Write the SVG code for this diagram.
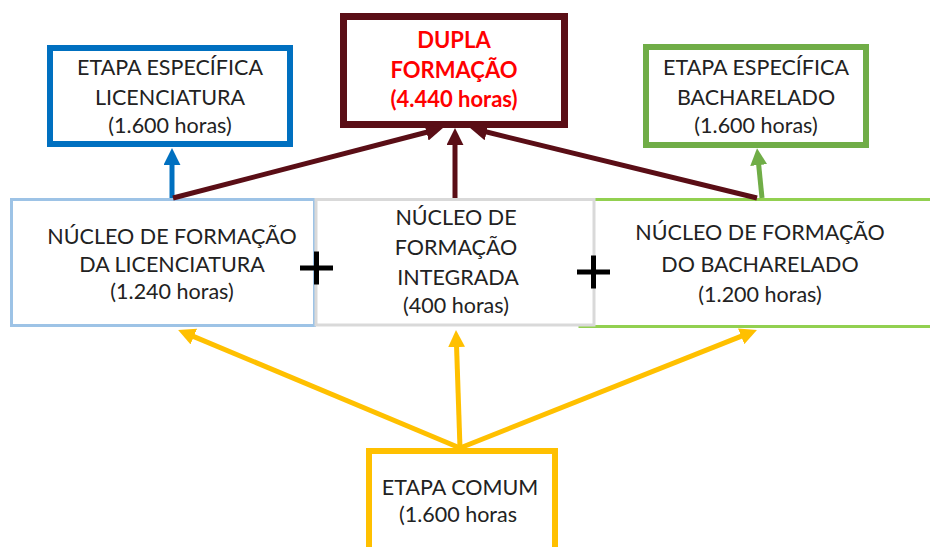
<svg xmlns="http://www.w3.org/2000/svg" width="930" height="547" viewBox="0 0 930 547">
<style>
text{font-family:Lato,"Liberation Sans",sans-serif;font-size:21.5px;fill:#222;text-anchor:middle}
.red{fill:#FF0000;font-weight:bold;font-size:22px}
.box{fill:#fff}
.c{fill:none;stroke-width:5}
</style>
<defs>
<marker id="ab" viewBox="0 0 10 10" refX="3" refY="5" markerWidth="3.4" markerHeight="3.4" orient="auto"><path d="M0,0L10,5L0,10z" fill="#0070C0"/></marker>
<marker id="ar" viewBox="0 0 10 10" refX="3" refY="5" markerWidth="3.4" markerHeight="3.4" orient="auto"><path d="M0,0L10,5L0,10z" fill="#5A0E16"/></marker>
<marker id="ag" viewBox="0 0 10 10" refX="3" refY="5" markerWidth="3.4" markerHeight="3.4" orient="auto"><path d="M0,0L10,5L0,10z" fill="#70AD47"/></marker>
<marker id="ay" viewBox="0 0 10 10" refX="3" refY="5" markerWidth="3.4" markerHeight="3.4" orient="auto"><path d="M0,0L10,5L0,10z" fill="#FFC000"/></marker>
</defs>
<g id="nucleo-bacharelado">
<rect class="box" x="580" y="199.5" width="360" height="127" stroke="#92D050" stroke-width="3"/>
<text x="760" y="240">NÚCLEO  DE FORMAÇÃO</text>
<text x="760" y="272">DO BACHARELADO</text>
<text x="760" y="302">(1.200 horas)</text>
</g>
<g id="nucleo-licenciatura">
<rect class="box" x="11.5" y="199.5" width="303" height="126" stroke="#9DC3E6" stroke-width="3"/>
<text x="172" y="244">NÚCLEO DE FORMAÇÃO</text>
<text x="172" y="272">DA LICENCIATURA</text>
<text x="172" y="299">(1.240 horas)</text>
</g>
<g id="nucleo-integrado">
<rect class="box" x="316" y="199.5" width="278" height="125.5" stroke="#D9D9D9" stroke-width="3"/>
<text x="456" y="225">NÚCLEO DE</text>
<text x="456" y="255">FORMAÇÃO</text>
<text x="458" y="285">INTEGRADA</text>
<text x="456" y="313">(400 horas)</text>
</g>
<g id="plus-signs" stroke="#000" stroke-width="5">
<path d="M300,268H333M316.5,251.5V284.5"/>
<path d="M577,272H610M593.5,255.5V288.5"/>
</g>
<g id="etapa-licenciatura">
<rect class="box" x="50" y="48" width="240" height="96" stroke="#0070C0" stroke-width="6"/>
<text x="170" y="75">ETAPA ESPECÍFICA</text>
<text x="170" y="105">LICENCIATURA</text>
<text x="170" y="133">(1.600 horas)</text>
</g>
<g id="dupla-formacao">
<rect class="box" x="343.5" y="16.5" width="221" height="108" stroke="#5A0E16" stroke-width="7"/>
<text class="red" x="454" y="48">DUPLA</text>
<text class="red" x="454" y="78">FORMAÇÃO</text>
<text class="red" x="454" y="107">(4.440 horas)</text>
</g>
<g id="etapa-bacharelado">
<rect class="box" x="646" y="47" width="220" height="98" stroke="#70AD47" stroke-width="6"/>
<text x="756" y="75">ETAPA ESPECÍFICA</text>
<text x="756" y="105">BACHARELADO</text>
<text x="756" y="133">(1.600 horas)</text>
</g>
<g id="etapa-comum">
<rect class="box" x="369" y="451" width="186" height="110" stroke="#FFC000" stroke-width="6"/>
<text x="460" y="495">ETAPA COMUM</text>
<text x="458" y="522">(1.600 horas</text>
</g>
<g id="connectors" class="c">
<path class="c" stroke="#0070C0" d="M172,198V160" marker-end="url(#ab)"/>
<path class="c" stroke="#70AD47" d="M762,198L758.2,160" marker-end="url(#ag)"/>
<path class="c" stroke="#5A0E16" d="M173,198L431.4,131" marker-end="url(#ar)"/>
<path class="c" stroke="#5A0E16" d="M455,198V140" marker-end="url(#ar)"/>
<path class="c" stroke="#5A0E16" d="M757,198L481.7,130.8" marker-end="url(#ar)"/>
<path class="c" stroke="#FFC000" d="M460,448L189.1,334.6" marker-end="url(#ay)"/>
<path class="c" stroke="#FFC000" d="M460,448L456.4,342" marker-end="url(#ay)"/>
<path class="c" stroke="#FFC000" d="M460,448L745.9,334.4" marker-end="url(#ay)"/>
</g>
</svg>
